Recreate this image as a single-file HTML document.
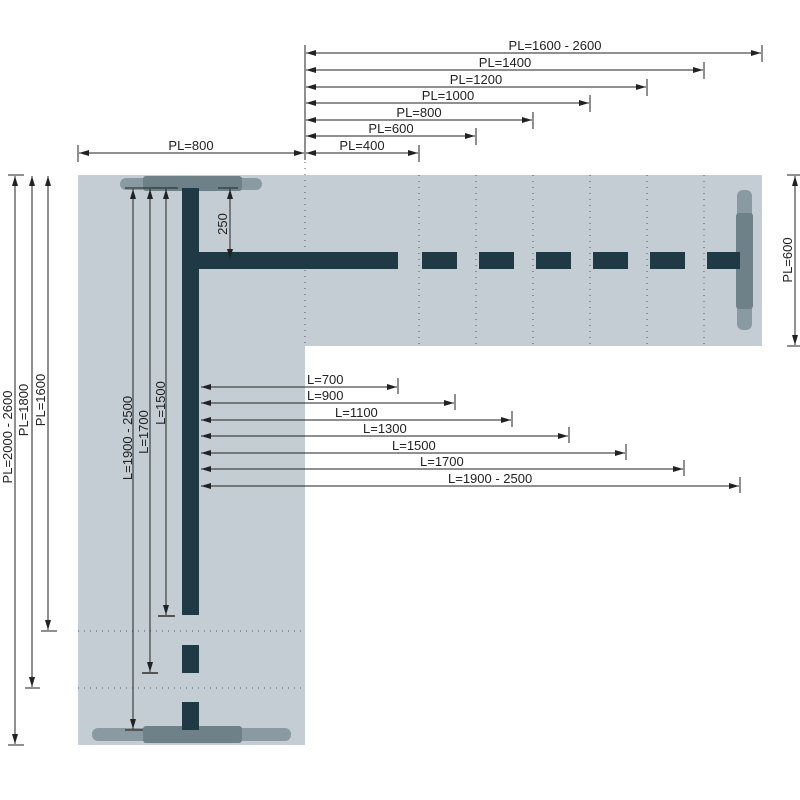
<!DOCTYPE html>
<html><head><meta charset="utf-8"><style>html,body{margin:0;padding:0;background:#fff}svg{display:block}</style></head>
<body>
<svg width="800" height="800" viewBox="0 0 800 800" xmlns="http://www.w3.org/2000/svg" font-family="Liberation Sans, sans-serif" font-size="13" fill="#222">
<defs>
<marker id="a" viewBox="0 0 10 6" refX="10" refY="3" markerWidth="10" markerHeight="6" orient="auto-start-reverse" markerUnits="userSpaceOnUse"><path d="M0,0 L10,3 L0,6 z" fill="#222"/></marker>
</defs>
<rect x="78" y="175" width="227" height="570" fill="#c4cdd4"/>
<rect x="305" y="175" width="457" height="171" fill="#c4cdd4"/>
<g stroke="#556" stroke-width="1" stroke-dasharray="1,5">
<line x1="305" y1="150" x2="305" y2="346"/>
<line x1="419" y1="175" x2="419" y2="346"/><line x1="476" y1="175" x2="476" y2="346"/>
<line x1="533" y1="175" x2="533" y2="346"/><line x1="590" y1="175" x2="590" y2="346"/>
<line x1="647" y1="175" x2="647" y2="346"/><line x1="704" y1="175" x2="704" y2="346"/>
<line x1="78" y1="631" x2="305" y2="631"/><line x1="78" y1="688" x2="305" y2="688"/>
</g>
<rect x="120" y="178" width="142" height="12" rx="6" fill="#8a9aa2"/>
<rect x="143" y="176" width="99" height="15" rx="3" fill="#6e8088"/>
<rect x="92" y="728" width="199" height="13" rx="6" fill="#8a9aa2"/>
<rect x="143" y="726" width="99" height="17" rx="3" fill="#6e8088"/>
<rect x="737" y="190" width="15" height="140" rx="6" fill="#8a9aa2"/>
<rect x="736" y="213" width="17" height="96" rx="3" fill="#6e8088"/>
<g fill="#1f3a45">
<rect x="182" y="188" width="17" height="427"/>
<rect x="182" y="645" width="17" height="28"/>
<rect x="182" y="702" width="17" height="28"/>
<rect x="199" y="252" width="199" height="17"/>
<rect x="422" y="252" width="35" height="17"/><rect x="479" y="252" width="35" height="17"/>
<rect x="536" y="252" width="35" height="17"/><rect x="593" y="252" width="35" height="17"/>
<rect x="650" y="252" width="35" height="17"/><rect x="707" y="252" width="33" height="17"/>
</g>
<g stroke="#222" stroke-width="1" fill="none">
<line x1="305" y1="45" x2="305" y2="160"/>
<line x1="762" y1="45" x2="762" y2="62"/><line x1="704" y1="62" x2="704" y2="79"/>
<line x1="647" y1="79" x2="647" y2="96"/><line x1="590" y1="95" x2="590" y2="112"/>
<line x1="533" y1="112" x2="533" y2="129"/><line x1="476" y1="128" x2="476" y2="145"/>
<line x1="419" y1="145" x2="419" y2="162"/><line x1="78" y1="145" x2="78" y2="162"/>
<line x1="306" y1="53" x2="761" y2="53" marker-start="url(#a)" marker-end="url(#a)"/>
<line x1="306" y1="70" x2="703" y2="70" marker-start="url(#a)" marker-end="url(#a)"/>
<line x1="306" y1="87" x2="646" y2="87" marker-start="url(#a)" marker-end="url(#a)"/>
<line x1="306" y1="103" x2="589" y2="103" marker-start="url(#a)" marker-end="url(#a)"/>
<line x1="306" y1="120" x2="532" y2="120" marker-start="url(#a)" marker-end="url(#a)"/>
<line x1="306" y1="136" x2="475" y2="136" marker-start="url(#a)" marker-end="url(#a)"/>
<line x1="306" y1="153" x2="418" y2="153" marker-start="url(#a)" marker-end="url(#a)"/>
<line x1="79" y1="153" x2="304" y2="153" marker-start="url(#a)" marker-end="url(#a)"/>
<line x1="8" y1="175" x2="24" y2="175"/>
<line x1="8" y1="745" x2="24" y2="745"/><line x1="25" y1="688" x2="40" y2="688"/><line x1="41" y1="631" x2="57" y2="631"/>
<line x1="15" y1="176" x2="15" y2="744" marker-start="url(#a)" marker-end="url(#a)"/>
<line x1="32" y1="176" x2="32" y2="687" marker-start="url(#a)" marker-end="url(#a)"/>
<line x1="48" y1="176" x2="48" y2="630" marker-start="url(#a)" marker-end="url(#a)"/>
<line x1="787" y1="175" x2="800" y2="175"/><line x1="787" y1="346" x2="800" y2="346"/>
<line x1="795" y1="176" x2="795" y2="345" marker-start="url(#a)" marker-end="url(#a)"/>
<line x1="125" y1="188" x2="178" y2="188"/><line x1="218" y1="188" x2="238" y2="188"/>
<line x1="125" y1="730" x2="143" y2="730" stroke="#555" stroke-width="2"/>
<line x1="142" y1="673" x2="158" y2="673" stroke="#555" stroke-width="2"/>
<line x1="158" y1="616" x2="175" y2="616" stroke="#555" stroke-width="2"/>
<line x1="133" y1="189" x2="133" y2="729" marker-start="url(#a)" marker-end="url(#a)"/>
<line x1="150" y1="189" x2="150" y2="672" marker-start="url(#a)" marker-end="url(#a)"/>
<line x1="166" y1="189" x2="166" y2="615" marker-start="url(#a)" marker-end="url(#a)"/>
<line x1="230" y1="189" x2="230" y2="259" marker-start="url(#a)" marker-end="url(#a)"/>
<line x1="201" y1="387" x2="397" y2="387" marker-start="url(#a)" marker-end="url(#a)"/><line x1="398" y1="378" x2="398" y2="394"/>
<line x1="201" y1="403" x2="454" y2="403" marker-start="url(#a)" marker-end="url(#a)"/><line x1="455" y1="394" x2="455" y2="410"/>
<line x1="201" y1="420" x2="511" y2="420" marker-start="url(#a)" marker-end="url(#a)"/><line x1="512" y1="411" x2="512" y2="427"/>
<line x1="201" y1="436" x2="568" y2="436" marker-start="url(#a)" marker-end="url(#a)"/><line x1="569" y1="427" x2="569" y2="443"/>
<line x1="201" y1="453" x2="625" y2="453" marker-start="url(#a)" marker-end="url(#a)"/><line x1="626" y1="444" x2="626" y2="460"/>
<line x1="201" y1="469" x2="683" y2="469" marker-start="url(#a)" marker-end="url(#a)"/><line x1="684" y1="460" x2="684" y2="476"/>
<line x1="201" y1="486" x2="739" y2="486" marker-start="url(#a)" marker-end="url(#a)"/><line x1="740" y1="477" x2="740" y2="493"/>
</g>
<g text-anchor="middle">
<text x="555" y="50">PL=1600 - 2600</text>
<text x="505" y="67">PL=1400</text>
<text x="476" y="84">PL=1200</text>
<text x="448" y="100">PL=1000</text>
<text x="419" y="117">PL=800</text>
<text x="391" y="133">PL=600</text>
<text x="362" y="150">PL=400</text>
<text x="191" y="150">PL=800</text>
<text transform="translate(12,437) rotate(-90)">PL=2000 - 2600</text>
<text transform="translate(28,410) rotate(-90)">PL=1800</text>
<text transform="translate(45,400) rotate(-90)">PL=1600</text>
<text transform="translate(132,438) rotate(-90)">L=1900 - 2500</text>
<text transform="translate(148,432) rotate(-90)">L=1700</text>
<text transform="translate(165,403) rotate(-90)">L=1500</text>
<text transform="translate(227,224) rotate(-90)">250</text>
<text transform="translate(792,260) rotate(-90)">PL=600</text>
</g>
<g>
<text x="307" y="384">L=700</text>
<text x="307" y="400">L=900</text>
<text x="335" y="417">L=1100</text>
<text x="363" y="433">L=1300</text>
<text x="392" y="450">L=1500</text>
<text x="420" y="466">L=1700</text>
<text x="448" y="483">L=1900 - 2500</text>
</g>
</svg>
</body></html>
